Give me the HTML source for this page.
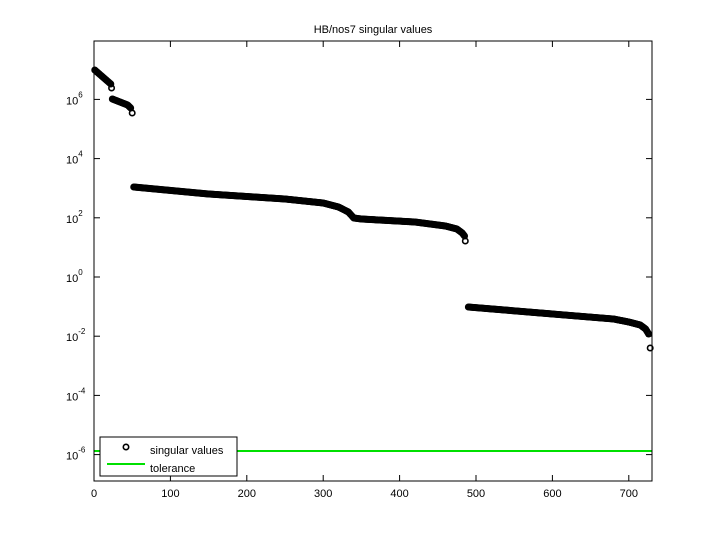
<!DOCTYPE html>
<html><head><meta charset="utf-8"><style>
body{margin:0;background:#fff;width:720px;height:540px;overflow:hidden}
text{font-family:"Liberation Sans",sans-serif;font-size:11px;fill:#000}
</style></head><body>
<svg id="s" width="720" height="540" xmlns="http://www.w3.org/2000/svg">
<rect x="0" y="0" width="720" height="540" fill="#fff"/>
<text x="373" y="33" text-anchor="middle">HB/nos7 singular values</text>
<g id="pts" fill="none" stroke="#000" stroke-width="1.6"></g>
<line x1="94" y1="451" x2="652" y2="451" stroke="#00e000" stroke-width="2"/>
<rect x="94" y="41" width="558" height="440" fill="none" stroke="#000" stroke-width="1"/>
<g id="ticks" stroke="#000" stroke-width="1"></g>
<g id="labels"></g>
<rect x="100" y="437" width="137" height="39" fill="#fff" stroke="#000" stroke-width="1"/>
<circle cx="126" cy="447" r="2.7" fill="none" stroke="#000" stroke-width="1.6"/>
<text x="150" y="454">singular values</text>
<line x1="107" y1="464" x2="145" y2="464" stroke="#00e000" stroke-width="2"/>
<text x="150" y="472">tolerance</text>
</svg>
<script>
var NS="http://www.w3.org/2000/svg";
function el(p,t,a,txt){var e=document.createElementNS(NS,t);for(var k in a)e.setAttribute(k,a[k]);if(txt!==undefined)e.textContent=txt;p.appendChild(e);return e;}
var tk=document.getElementById('ticks'),lb=document.getElementById('labels'),pts=document.getElementById('pts');
function X(i){return 94+i*0.764;}
for(var v=0;v<=700;v+=100){var x=X(v);el(tk,'line',{x1:x,y1:481,x2:x,y2:475});el(tk,'line',{x1:x,y1:41,x2:x,y2:47});el(lb,'text',{x:x,y:497,'text-anchor':'middle'},v);}
for(var e=6;e>=-6;e-=2){var y=277-e*29.6;el(tk,'line',{x1:94,y1:y,x2:100,y2:y});el(tk,'line',{x1:652,y1:y,x2:646,y2:y});
var t=el(lb,'text',{x:66,y:y+5});t.textContent='10';var s=el(t,'tspan',{dy:-7,'font-size':'8'});s.textContent=e;}
function interp(k,i){for(var j=0;j<k.length-1;j++){if(i>=k[j][0]&&i<=k[j+1][0]){var f=(i-k[j][0])/(k[j+1][0]-k[j][0]);return k[j][1]+f*(k[j+1][1]-k[j][1]);}}return k[k.length-1][1];}
var segs=[
[[1,70],[22,84]],
[[24,99],[44,105],[48,108]],
[[52,187],[150,194],[250,199],[300,203],[320,207],[333,212],[340,218],[350,219],[420,222],[460,226],[475,229],[482,233],[485,236]],
[[490,307],[600,314],[680,319],[700,322],[715,325],[722,329],[726,334]]
];
segs.forEach(function(k){for(var i=k[0][0];i<=k[k.length-1][0];i++)el(pts,'circle',{cx:X(i),cy:interp(k,i),r:2.7});});
[[23,88],[50,113],[486,241],[728,348]].forEach(function(p){el(pts,'circle',{cx:X(p[0]),cy:p[1],r:2.7});});
</script>
</body></html>
